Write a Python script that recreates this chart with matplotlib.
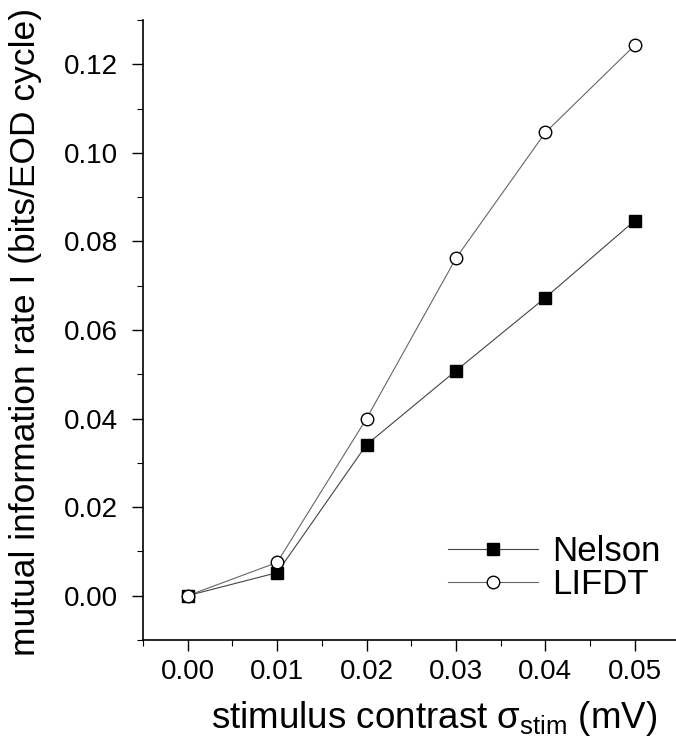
import matplotlib
matplotlib.use("Agg")
import matplotlib.pyplot as plt
from matplotlib.ticker import MultipleLocator

plt.rcParams['font.family'] = ['Liberation Sans', 'DejaVu Sans']
plt.rcParams['mathtext.fontset'] = 'custom'
plt.rcParams['mathtext.rm'] = 'Liberation Sans'
plt.rcParams['mathtext.it'] = 'Liberation Sans'

# stimulus contrast (mV) and information rates
contrast = [0.00, 0.01, 0.02, 0.03, 0.04, 0.05]
nelson = [0.0, 0.0052, 0.0341, 0.0508, 0.0673, 0.0847]
lifdt = [0.0, 0.0075, 0.0400, 0.0762, 0.1046, 0.1243]

fig = plt.figure(figsize=(6.76, 7.39), dpi=100)
ax = fig.add_axes([0.2115, 0.134, 0.7885, 0.839])

ax.plot(contrast, nelson, color='#444444', lw=0.8, marker='s', ms=8,
        mfc='black', mec='black', label='Nelson')
ax.plot(contrast, lifdt, color='#666666', lw=0.8, marker='o', ms=9,
        mfc='white', mec='black', mew=1.0, label='LIFDT')

ax.set_xlim(-0.005, 0.0546)
ax.set_ylim(-0.01, 0.13)
ax.xaxis.set_major_locator(MultipleLocator(0.01))
ax.xaxis.set_minor_locator(MultipleLocator(0.005))
ax.yaxis.set_major_locator(MultipleLocator(0.02))
ax.yaxis.set_minor_locator(MultipleLocator(0.01))
ax.xaxis.set_major_formatter(lambda v, p: f'{v:.2f}')
ax.yaxis.set_major_formatter(lambda v, p: f'{v:.2f}')

for side in ['top', 'right']:
    ax.spines[side].set_visible(False)
for side in ['left', 'bottom']:
    ax.spines[side].set_linewidth(1.2)

ax.tick_params(which='major', direction='out', length=8, width=1.0,
               labelsize=20)
ax.tick_params(axis='y', which='major', pad=10)
ax.tick_params(axis='x', which='major', pad=6)
ax.tick_params(which='minor', direction='out', length=4, width=0.8)

ax.set_xlabel(r'stimulus contrast $\sigma_{\mathrm{stim}}$ (mV)', fontsize=26.5)
ax.set_ylabel('mutual information rate I (bits/EOD cycle)', fontsize=25.5)
ax.xaxis.set_label_coords(0.546, -0.095)
ax.yaxis.set_label_coords(-0.19, 0.497)

leg = ax.legend(loc='center left', bbox_to_anchor=(0.54, 0.116), frameon=False,
                fontsize=25, handlelength=2.6, handletextpad=0.4,
                labelspacing=0.0, borderpad=0.0)

fig.savefig('out.png', dpi=100)
